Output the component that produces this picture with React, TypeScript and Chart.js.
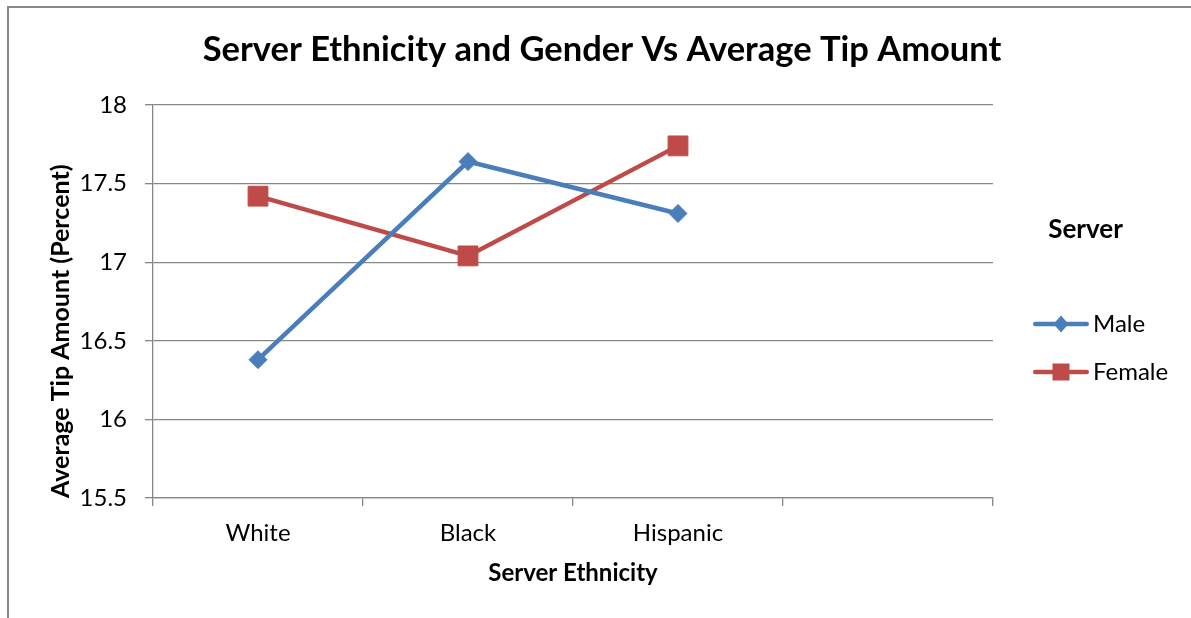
import React, { useEffect, useRef } from 'react';
import { Chart, registerables } from 'chart.js';

Chart.register(...registerables);

const categories = ['White', 'Black', 'Hispanic', ''];
const maleValues = [16.38, 17.64, 17.31];
const femaleValues = [17.42, 17.04, 17.74];
const seriesNames = ['Male', 'Female'];
const yMin = 15.5;
const yMax = 18;
const yStep = 0.5;
const chartTitle = 'Server Ethnicity and Gender Vs Average Tip Amount';
const xTitle = 'Server Ethnicity';
const yTitle = 'Average Tip Amount (Percent)';
const legendTitle = 'Server';

const BLUE = '#4A7EBB';
const RED = '#BE4B48';
const GRID = '#878787';
const FONT = 'Lato';

function makeIcon(color: string, shape: 'diamond' | 'square'): HTMLCanvasElement {
  const c = document.createElement('canvas');
  c.width = 84;
  c.height = 24;
  const g = c.getContext('2d')!;
  g.strokeStyle = color;
  g.fillStyle = color;
  g.lineWidth = 4.5;
  g.lineCap = 'round';
  g.beginPath();
  g.moveTo(28.25, 12);
  g.lineTo(79.75, 12);
  g.stroke();
  const cx = 54;
  const cy = 12;
  g.beginPath();
  if (shape === 'diamond') {
    g.moveTo(cx, cy - 8.5);
    g.lineTo(cx + 7.5, cy);
    g.lineTo(cx, cy + 8.5);
    g.lineTo(cx - 7.5, cy);
    g.closePath();
  } else {
    g.rect(cx - 8.5, cy - 8.5, 17, 17);
  }
  g.fill();
  return c;
}

export default function App() {
  const ref = useRef<HTMLCanvasElement | null>(null);

  useEffect(() => {
    if (!ref.current) return;
    const m = document.createElement('canvas').getContext('2d')!;
    m.font = `normal 24px ${FONT}`;
    const textW = Math.max(...seriesNames.map((n) => m.measureText(n).width));
    const R = 88 - textW;
    const L = R + 13;
    const icons = [makeIcon(BLUE, 'diamond'), makeIcon(RED, 'square')];

    const chart = new Chart(ref.current, {
      type: 'line',
      data: {
        labels: categories,
        datasets: [
          {
            label: seriesNames[0],
            data: maleValues,
            borderColor: BLUE,
            backgroundColor: BLUE,
            borderWidth: 4.5,
            pointStyle: 'rectRot',
            pointRadius: 9,
            pointBorderWidth: 1,
            pointBackgroundColor: BLUE,
            pointBorderColor: BLUE,
            tension: 0,
          },
          {
            label: seriesNames[1],
            data: femaleValues,
            borderColor: RED,
            backgroundColor: RED,
            borderWidth: 4.5,
            pointStyle: 'rect',
            pointRadius: 14,
            pointBorderWidth: 1,
            pointBackgroundColor: RED,
            pointBorderColor: RED,
            tension: 0,
          },
        ],
      },
      options: {
        responsive: false,
        animation: false,
        layout: { padding: { top: 8, bottom: 0, left: L, right: R } },
        plugins: {
          title: {
            display: true,
            text: chartTitle,
            color: '#000',
            font: { family: FONT, size: 34.5, weight: 'bold' },
            padding: { top: 21.3, bottom: 34.3 },
          },
          legend: {
            position: 'right',
            title: {
              display: true,
              text: legendTitle,
              color: '#000',
              font: { family: FONT, size: 26, weight: 'bold' },
              padding: { top: -1, bottom: 39.8 },
            },
            labels: {
              usePointStyle: true,
              pointStyleWidth: 64,
              padding: 24,
              color: '#000',
              font: { family: FONT, size: 24 },
              generateLabels: (ch: any) => {
                const items = (Chart as any).defaults.plugins.legend.labels.generateLabels(ch);
                items.forEach((it: any, i: number) => {
                  it.pointStyle = icons[i];
                });
                return items;
              },
            },
          },
          tooltip: { enabled: false },
        },
        scales: {
          x: {
            offset: true,
            grid: {
              offset: true,
              drawOnChartArea: false,
              drawTicks: true,
              tickLength: 8,
              color: GRID,
              lineWidth: 1.3,
            },
            border: { color: GRID, width: 1.3 },
            ticks: {
              color: '#000',
              font: { family: FONT, size: 24 },
              padding: 12.6,
              maxRotation: 0,
              autoSkip: false,
            },
            title: {
              display: true,
              text: xTitle,
              color: '#000',
              font: { family: FONT, size: 24, weight: 'bold' },
              padding: { top: 0, bottom: 30.6 },
            },
            afterFit: (s: any) => {
              s.height = 120;
            },
          },
          y: {
            min: yMin,
            max: yMax,
            ticks: {
              stepSize: yStep,
              color: '#000',
              font: { family: FONT, size: 24 },
              padding: 18,
              callback: (v: any) => String(Number(v)),
            },
            grid: { color: GRID, lineWidth: 1.3, tickLength: 8 },
            border: { color: GRID, width: 1.3 },
            title: {
              display: true,
              text: yTitle,
              align: 'start',
              color: '#000',
              font: { family: FONT, size: 25, weight: 'bold' },
              padding: { top: 46 - L, bottom: 0 },
            },
            afterFit: (s: any) => {
              s.width = 153 - L;
            },
          },
        },
      } as any,
    });
    return () => chart.destroy();
  }, []);

  return (
    <div>
      <div
        style={{
          position: 'fixed',
          left: 7,
          top: 6,
          right: -4,
          bottom: -4,
          borderLeft: '2px solid #888',
          borderTop: '2px solid #888',
        }}
      />
      <canvas
        ref={ref}
        width={1191}
        height={618}
        style={{ position: 'fixed', left: 0, top: 0, width: 1191, height: 618, display: 'block' }}
      />
    </div>
  );
}
